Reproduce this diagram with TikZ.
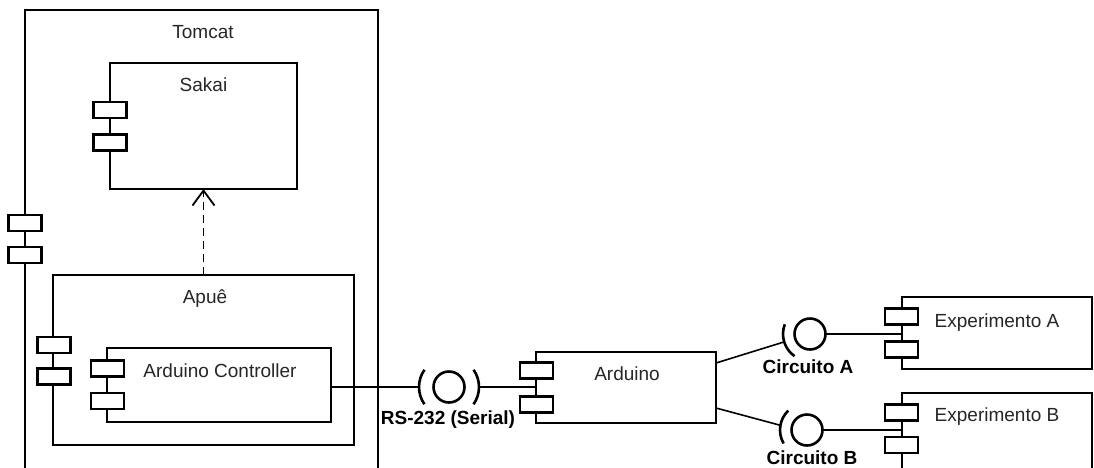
\documentclass[tikz,border=0pt]{standalone}
\usepackage{fontspec}
\setmainfont{Liberation Sans}
\usetikzlibrary{arrows.meta,calc}
\begin{document}
\begin{tikzpicture}[x=1pt,y=-1pt,
  comp/.style={draw, line width=2.8pt, fill=white, anchor=north west, inner sep=0pt, outer sep=0pt},
  icon/.style={draw, line width=2.6pt, fill=white, minimum width=33pt, minimum height=16pt, inner sep=0pt, outer sep=0pt},
  lbl/.style={anchor=base, font=\fontsize{19}{21}\selectfont, inner sep=0pt, text=black!85},
  blbl/.style={anchor=base, font=\fontsize{19}{21}\selectfont\bfseries, inner sep=0pt},
  wire/.style={line width=1.6pt},
  ball/.style={draw, circle, line width=2.6pt, minimum size=31pt, inner sep=0pt, outer sep=0pt},
  sock/.style={line width=2.6pt},
  dep/.style={line width=1.8pt, dash pattern=on 8pt off 5pt, -{Straight Barb[length=15pt,width=22pt,line width=1.8pt]}}]
\clip (0,0) rectangle (1094,467);
\fill[white] (0,0) rectangle (1094,467);

% Tomcat
\node[comp, minimum width=353pt, minimum height=480pt] (tomcat) at (25,10) {};
\node[lbl] (tomcatl) at (203,38) {Tomcat};
\node[icon] (tomcati1) at (25,223) {};
\node[icon] (tomcati2) at (25,255) {};

% Sakai
\node[comp, minimum width=187pt, minimum height=126pt] (sakai) at (110,63) {};
\node[lbl] (sakail) at (203.5,91) {Sakai};
\node[icon] (sakaii1) at (110,110) {};
\node[icon] (sakaii2) at (110,142.5) {};

% Apue
\node[comp, minimum width=301pt, minimum height=170pt] (apue) at (53,275) {};
\node[lbl] (apuel) at (205,303) {Apuê};
\node[icon] (apuei1) at (54,345) {};
\node[icon] (apuei2) at (54,376.5) {};

% Arduino Controller
\node[comp, minimum width=224pt, minimum height=74pt] (ctrl) at (107,348) {};
\node[lbl] (ctrll) at (220,377) {Arduino Controller};
\node[icon] (ctrli1) at (107.5,368.5) {};
\node[icon] (ctrli2) at (107.5,401) {};

% dependency
\draw[dep] (apue.north) -- (sakai.south);

% Arduino
\node[comp, minimum width=180pt, minimum height=71pt] (ard) at (536,352) {};
\node[lbl] (ardl) at (627,380) {Arduino};
\node[icon] (ardi1) at (536.5,370.5) {};
\node[icon] (ardi2) at (536.5,404.5) {};

% Experimento A
\node[comp, minimum width=190pt, minimum height=72pt] (expa) at (902,297) {};
\node[lbl] (expal) at (997,327) {Experimento A};
\node[icon] (expai1) at (901.5,316.5) {};
\node[icon] (expai2) at (901.5,349.5) {};

% Experimento B
\node[comp, minimum width=190pt, minimum height=100pt] (expb) at (902,393) {};
\node[lbl] (expbl) at (997,421) {Experimento B};
\node[icon] (expbi1) at (901.5,412.5) {};
\node[icon] (expbi2) at (901.5,445) {};

% RS-232 interface
\node[ball] (rs) at (449,387) {};
\coordinate (rsl) at ($(rs.center)+(180:30pt)$);
\coordinate (rsr) at ($(rs.center)+(0:30pt)$);
\draw[sock] ($(rs.center)+(145:30pt)$) arc[start angle=145, end angle=215, radius=30pt];
\draw[sock] ($(rs.center)+(-35:30pt)$) arc[start angle=-35, end angle=35, radius=30pt];
\draw[wire] (ctrl.east |- rs) -- (rsl);
\draw[wire] (rsr) -- (ard.west |- rs);
\node[blbl] (rslbl) at (448,424) {RS-232 (Serial)};

% Circuito A
\node[ball] (ca) at (810,334) {};
\coordinate (pa) at (716,363);
\draw[sock] ($(ca.center)+(159:27pt)$) arc[start angle=159, end angle=235, radius=27pt];
\draw[wire] (pa) -- ($(ca.center)+(197:27pt)$);
\draw[wire] (ca.east) -- (expa.west |- ca);
\node[blbl] (cal) at (808,373) {Circuito A};

% Circuito B
\node[ball] (cb) at (807,430) {};
\coordinate (pb) at (716,408);
\draw[sock] ($(cb.center)+(134:27pt)$) arc[start angle=134, end angle=210, radius=27pt];
\draw[wire] (pb) -- ($(cb.center)+(170:27pt)$);
\draw[wire] (cb.east) -- (expb.west |- cb);
\node[blbl] (cbl) at (812,464) {Circuito B};
\end{tikzpicture}
\end{document}
